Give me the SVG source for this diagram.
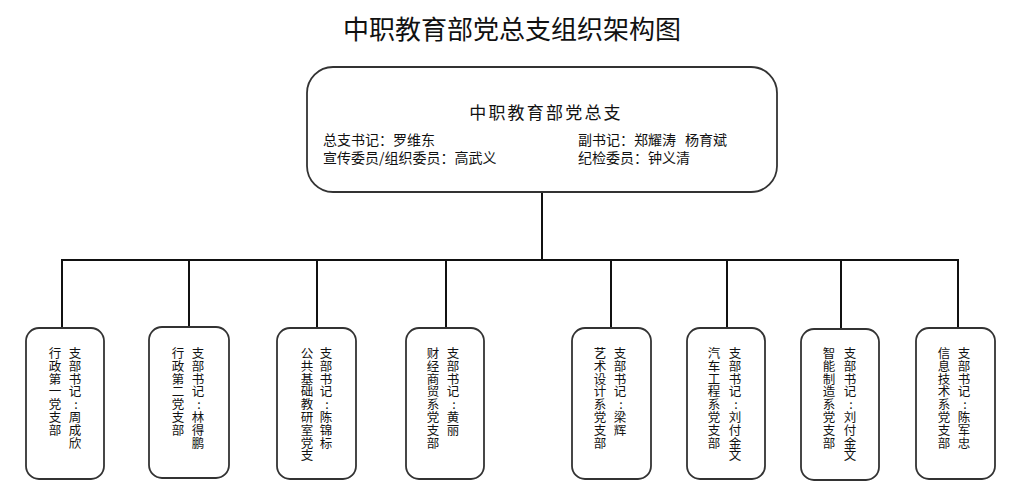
<svg xmlns="http://www.w3.org/2000/svg" width="1024" height="497" viewBox="0 0 1024 497">
<style>
.bg{fill:#ffffff}
.box{fill:#ffffff;stroke:#333333;stroke-width:1.8}
.ln{fill:none;stroke:#111111;stroke-width:2}
.t{font-family:"Noto Sans CJK SC","Noto Sans",sans-serif;fill:#111111}
.title{font-size:26px}
.head{font-size:17px;letter-spacing:2.2px}
.info{font-size:14px}
.v{font-size:12.5px;text-anchor:middle}
</style>
<rect class="bg" x="0" y="0" width="1024" height="497"/>
<text class="t title" x="512" y="39" text-anchor="middle">中职教育部党总支组织架构图</text>
<g id="connectors">
<line class="ln" x1="542" y1="192" x2="542" y2="260"/>
<line class="ln" x1="61" y1="260" x2="959" y2="260"/>
<line class="ln" x1="62" y1="260" x2="62" y2="328"/>
<line class="ln" x1="189" y1="260" x2="189" y2="327"/>
<line class="ln" x1="317" y1="260" x2="317" y2="328"/>
<line class="ln" x1="446" y1="260" x2="446" y2="328"/>
<line class="ln" x1="611" y1="260" x2="611" y2="328"/>
<line class="ln" x1="727" y1="260" x2="727" y2="328"/>
<line class="ln" x1="841" y1="260" x2="841" y2="329"/>
<line class="ln" x1="958" y1="260" x2="958" y2="328"/>
</g>
<g id="root">
<rect class="box" x="307" y="67" width="470" height="125" rx="26"/>
<text class="t head" x="546" y="119" text-anchor="middle">中职教育部党总支</text>
<text class="t info" x="323" y="145">总支书记：罗维东</text>
<text class="t info" x="323" y="163">宣传委员/组织委员：高武义</text>
<text class="t info" x="578" y="145">副书记：郑耀涛<tspan dx="9">杨育斌</tspan></text>
<text class="t info" x="578" y="163">纪检委员：钟义清</text>
</g>
<g id="b1">
<rect class="box" x="26" y="328" width="78" height="151" rx="13"/>
<text class="t v" x="75" y="358">支<tspan x="75" dy="12.8">部</tspan><tspan x="75" dy="12.8">书</tspan><tspan x="75" dy="12.8">记</tspan><tspan x="76" dy="12.8">:</tspan><tspan x="75" dy="12.8">周</tspan><tspan x="75" dy="12.8">成</tspan><tspan x="75" dy="12.8">欣</tspan></text>
<text class="t v" x="55" y="358">行<tspan x="55" dy="12.8">政</tspan><tspan x="55" dy="12.8">第</tspan><tspan x="55" dy="12.8">一</tspan><tspan x="55" dy="12.8">党</tspan><tspan x="55" dy="12.8">支</tspan><tspan x="55" dy="12.8">部</tspan></text>
</g>
<g id="b2">
<rect class="box" x="149" y="327" width="80" height="151" rx="13"/>
<text class="t v" x="198" y="358">支<tspan x="198" dy="12.8">部</tspan><tspan x="198" dy="12.8">书</tspan><tspan x="198" dy="12.8">记</tspan><tspan x="199" dy="12.8">:</tspan><tspan x="198" dy="12.8">林</tspan><tspan x="198" dy="12.8">得</tspan><tspan x="198" dy="12.8">鹏</tspan></text>
<text class="t v" x="178" y="358">行<tspan x="178" dy="12.8">政</tspan><tspan x="178" dy="12.8">第</tspan><tspan x="178" dy="12.8">二</tspan><tspan x="178" dy="12.8">党</tspan><tspan x="178" dy="12.8">支</tspan><tspan x="178" dy="12.8">部</tspan></text>
</g>
<g id="b3">
<rect class="box" x="277" y="328" width="79" height="151" rx="13"/>
<text class="t v" x="326" y="358">支<tspan x="326" dy="12.8">部</tspan><tspan x="326" dy="12.8">书</tspan><tspan x="326" dy="12.8">记</tspan><tspan x="327" dy="12.8">:</tspan><tspan x="326" dy="12.8">陈</tspan><tspan x="326" dy="12.8">锦</tspan><tspan x="326" dy="12.8">标</tspan></text>
<text class="t v" x="307" y="358">公<tspan x="307" dy="12.8">共</tspan><tspan x="307" dy="12.8">基</tspan><tspan x="307" dy="12.8">础</tspan><tspan x="307" dy="12.8">教</tspan><tspan x="307" dy="12.8">研</tspan><tspan x="307" dy="12.8">室</tspan><tspan x="307" dy="12.8">党</tspan><tspan x="307" dy="12.8">支</tspan></text>
</g>
<g id="b4">
<rect class="box" x="406" y="328" width="78" height="151" rx="13"/>
<text class="t v" x="453" y="358">支<tspan x="453" dy="12.8">部</tspan><tspan x="453" dy="12.8">书</tspan><tspan x="453" dy="12.8">记</tspan><tspan x="454" dy="12.8">:</tspan><tspan x="453" dy="12.8">黄</tspan><tspan x="453" dy="12.8">丽</tspan></text>
<text class="t v" x="433" y="358">财<tspan x="433" dy="12.8">经</tspan><tspan x="433" dy="12.8">商</tspan><tspan x="433" dy="12.8">贸</tspan><tspan x="433" dy="12.8">系</tspan><tspan x="433" dy="12.8">党</tspan><tspan x="433" dy="12.8">支</tspan><tspan x="433" dy="12.8">部</tspan></text>
</g>
<g id="b5">
<rect class="box" x="572" y="328" width="79" height="151" rx="13"/>
<text class="t v" x="620" y="358">支<tspan x="620" dy="12.8">部</tspan><tspan x="620" dy="12.8">书</tspan><tspan x="620" dy="12.8">记</tspan><tspan x="621" dy="12.8">:</tspan><tspan x="620" dy="12.8">梁</tspan><tspan x="620" dy="12.8">辉</tspan></text>
<text class="t v" x="600" y="358">艺<tspan x="600" dy="12.8">术</tspan><tspan x="600" dy="12.8">设</tspan><tspan x="600" dy="12.8">计</tspan><tspan x="600" dy="12.8">系</tspan><tspan x="600" dy="12.8">党</tspan><tspan x="600" dy="12.8">支</tspan><tspan x="600" dy="12.8">部</tspan></text>
</g>
<g id="b6">
<rect class="box" x="687" y="328" width="78" height="151" rx="13"/>
<text class="t v" x="735" y="358">支<tspan x="735" dy="12.8">部</tspan><tspan x="735" dy="12.8">书</tspan><tspan x="735" dy="12.8">记</tspan><tspan x="736" dy="12.8">:</tspan><tspan x="735" dy="12.8">刘</tspan><tspan x="735" dy="12.8">付</tspan><tspan x="735" dy="12.8">金</tspan><tspan x="735" dy="12.8">文</tspan></text>
<text class="t v" x="714" y="358">汽<tspan x="714" dy="12.8">车</tspan><tspan x="714" dy="12.8">工</tspan><tspan x="714" dy="12.8">程</tspan><tspan x="714" dy="12.8">系</tspan><tspan x="714" dy="12.8">党</tspan><tspan x="714" dy="12.8">支</tspan><tspan x="714" dy="12.8">部</tspan></text>
</g>
<g id="b7">
<rect class="box" x="801" y="329" width="78" height="151" rx="13"/>
<text class="t v" x="850" y="358">支<tspan x="850" dy="12.8">部</tspan><tspan x="850" dy="12.8">书</tspan><tspan x="850" dy="12.8">记</tspan><tspan x="851" dy="12.8">:</tspan><tspan x="850" dy="12.8">刘</tspan><tspan x="850" dy="12.8">付</tspan><tspan x="850" dy="12.8">金</tspan><tspan x="850" dy="12.8">文</tspan></text>
<text class="t v" x="829" y="358">智<tspan x="829" dy="12.8">能</tspan><tspan x="829" dy="12.8">制</tspan><tspan x="829" dy="12.8">造</tspan><tspan x="829" dy="12.8">系</tspan><tspan x="829" dy="12.8">党</tspan><tspan x="829" dy="12.8">支</tspan><tspan x="829" dy="12.8">部</tspan></text>
</g>
<g id="b8">
<rect class="box" x="916" y="328" width="79" height="151" rx="13"/>
<text class="t v" x="964" y="358">支<tspan x="964" dy="12.8">部</tspan><tspan x="964" dy="12.8">书</tspan><tspan x="964" dy="12.8">记</tspan><tspan x="965" dy="12.8">:</tspan><tspan x="964" dy="12.8">陈</tspan><tspan x="964" dy="12.8">军</tspan><tspan x="964" dy="12.8">忠</tspan></text>
<text class="t v" x="944" y="358">信<tspan x="944" dy="12.8">息</tspan><tspan x="944" dy="12.8">技</tspan><tspan x="944" dy="12.8">术</tspan><tspan x="944" dy="12.8">系</tspan><tspan x="944" dy="12.8">党</tspan><tspan x="944" dy="12.8">支</tspan><tspan x="944" dy="12.8">部</tspan></text>
</g>
</svg>
